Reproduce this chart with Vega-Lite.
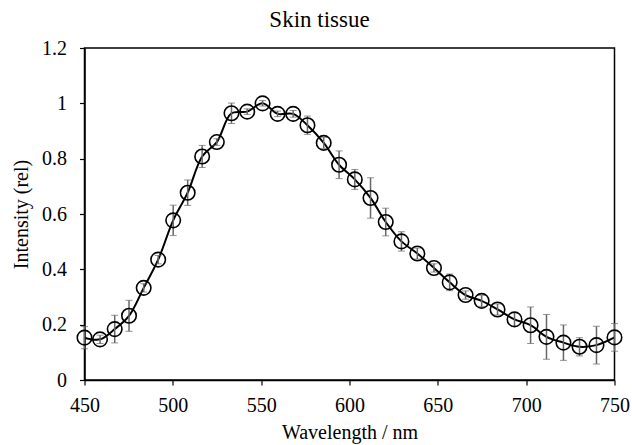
{
  "$schema": "https://vega.github.io/schema/vega-lite/v6.json",
  "autosize": "none",
  "width": 530,
  "height": 332,
  "padding": {"left": 84.5, "top": 48, "right": 17.5, "bottom": 65},
  "background": "white",
  "title": {
    "text": "Skin tissue",
    "font": "Liberation Serif",
    "fontSize": 23,
    "fontWeight": "normal",
    "color": "#000000",
    "dx": -30,
    "offset": 6
  },
  "data": {
    "values": [
      {"wl": 450.0, "v": 0.153, "e": 0.04},
      {"wl": 458.8, "v": 0.147, "e": 0.015},
      {"wl": 467.1, "v": 0.184, "e": 0.05},
      {"wl": 475.2, "v": 0.232, "e": 0.056},
      {"wl": 483.5, "v": 0.333, "e": 0.015},
      {"wl": 491.7, "v": 0.435, "e": 0.015},
      {"wl": 500.2, "v": 0.577, "e": 0.055},
      {"wl": 508.4, "v": 0.677, "e": 0.046},
      {"wl": 516.6, "v": 0.808, "e": 0.04},
      {"wl": 524.9, "v": 0.86, "e": 0.012},
      {"wl": 533.2, "v": 0.964, "e": 0.037},
      {"wl": 542.1, "v": 0.97, "e": 0.01},
      {"wl": 550.8, "v": 1.0, "e": 0.01},
      {"wl": 559.3, "v": 0.962, "e": 0.01},
      {"wl": 568.1, "v": 0.962, "e": 0.012},
      {"wl": 576.2, "v": 0.921, "e": 0.033},
      {"wl": 585.4, "v": 0.857, "e": 0.02},
      {"wl": 594.1, "v": 0.778, "e": 0.05},
      {"wl": 603.0, "v": 0.725, "e": 0.036},
      {"wl": 611.9, "v": 0.658, "e": 0.073},
      {"wl": 620.5, "v": 0.571, "e": 0.05},
      {"wl": 629.4, "v": 0.501, "e": 0.035},
      {"wl": 638.4, "v": 0.457, "e": 0.02},
      {"wl": 647.8, "v": 0.405, "e": 0.015},
      {"wl": 656.7, "v": 0.353, "e": 0.03},
      {"wl": 665.7, "v": 0.307, "e": 0.015},
      {"wl": 674.8, "v": 0.286, "e": 0.02},
      {"wl": 683.8, "v": 0.255, "e": 0.02},
      {"wl": 693.4, "v": 0.219, "e": 0.025},
      {"wl": 702.5, "v": 0.198, "e": 0.066},
      {"wl": 711.5, "v": 0.156, "e": 0.081},
      {"wl": 721.1, "v": 0.135, "e": 0.064},
      {"wl": 730.2, "v": 0.12, "e": 0.033},
      {"wl": 739.8, "v": 0.126, "e": 0.068},
      {"wl": 750.0, "v": 0.154, "e": 0.05}
    ]
  },
  "encoding": {
    "x": {
      "field": "wl",
      "type": "quantitative",
      "scale": {"domain": [450, 750], "nice": false, "zero": false},
      "axis": {
        "title": "Wavelength  / nm",
        "values": [450, 500, 550, 600, 650, 700, 750],
        "grid": false
      }
    },
    "y": {
      "field": "v",
      "type": "quantitative",
      "scale": {"domain": [0, 1.2], "nice": false},
      "axis": {
        "title": "Intensity (rel)",
        "values": [0, 0.2, 0.4, 0.6, 0.8, 1, 1.2],
        "format": "~g",
        "grid": false
      }
    }
  },
  "layer": [
    {
      "mark": {"type": "line", "interpolate": "catmull-rom", "color": "#000000", "strokeWidth": 2}
    },
    {
      "mark": {
        "type": "errorbar",
        "ticks": {"size": 7, "color": "#666666", "strokeWidth": 1.5},
        "rule": {"color": "#666666", "strokeWidth": 1.5}
      },
      "encoding": {
        "yError": {"field": "e"}
      }
    },
    {
      "mark": {"type": "point", "shape": "circle", "filled": false, "size": 210, "color": "#000000", "strokeWidth": 1.6, "opacity": 1}
    }
  ],
  "config": {
    "view": {"stroke": "#000000", "strokeWidth": 1.5},
    "axis": {
      "labelFont": "Liberation Serif",
      "titleFont": "Liberation Serif",
      "labelFontSize": 20,
      "titleFontSize": 20,
      "titleFontWeight": "normal",
      "labelColor": "#000000",
      "titleColor": "#000000",
      "domainColor": "#000000",
      "domainWidth": 1.5,
      "tickColor": "#000000",
      "tickWidth": 1.2,
      "tickSize": 5
    },
    "axisX": {"labelPadding": 10, "titlePadding": 7, "labelFlush": false},
    "axisY": {"labelPadding": 13, "titlePadding": 10, "labelFlush": false}
  }
}
